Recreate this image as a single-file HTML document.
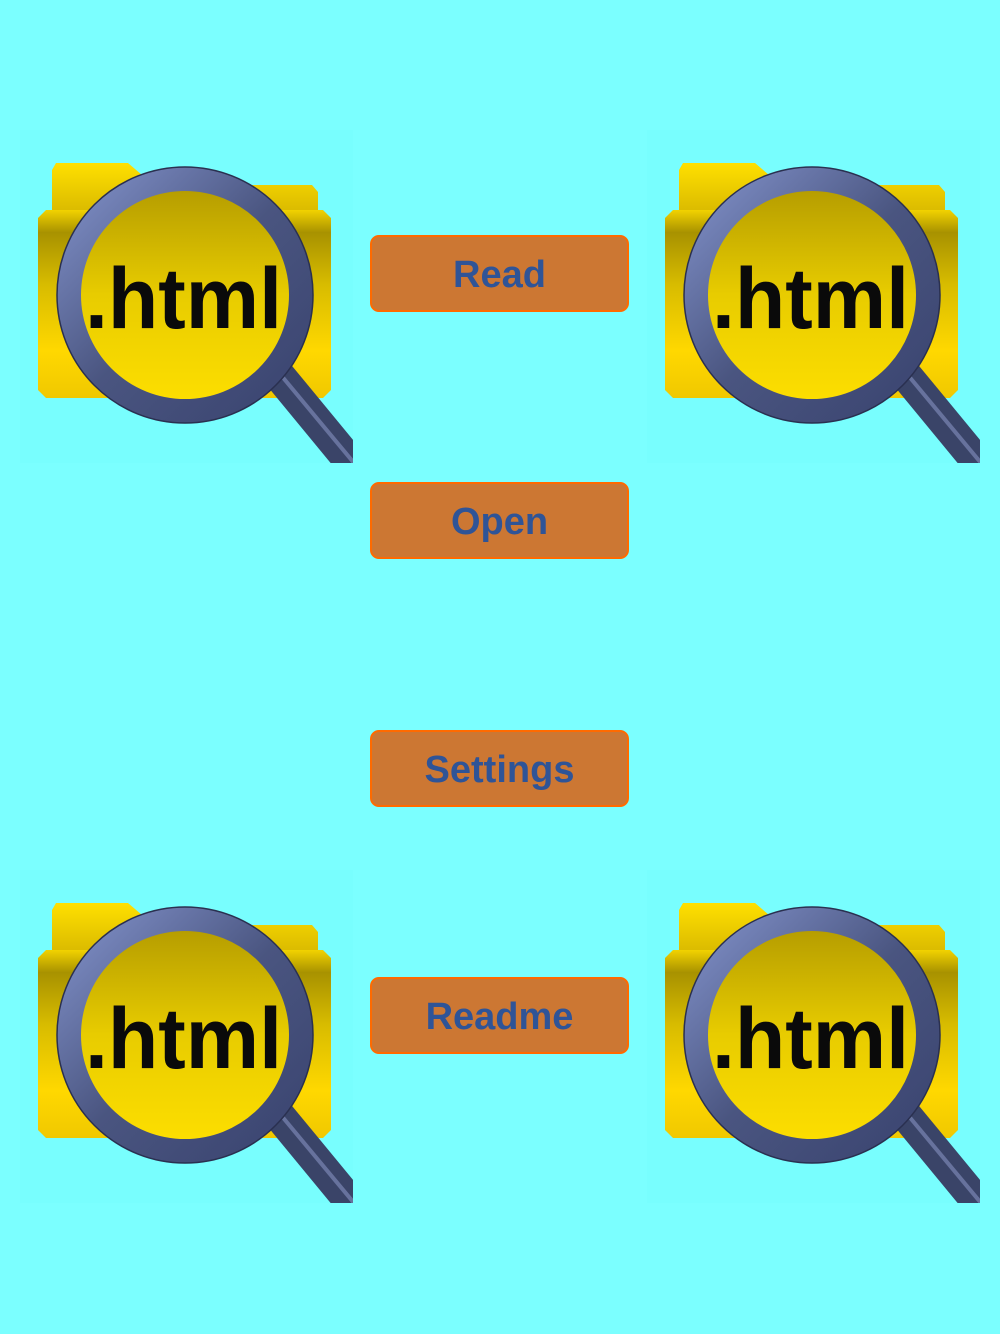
<!DOCTYPE html>
<html><head><meta charset="utf-8"><style>
html,body{margin:0;padding:0;background:#7bffff;}
body{width:1000px;height:1334px;position:relative;overflow:hidden;}
.btn{position:absolute;left:370px;width:255px;height:73px;background:#cc7733;border:2px solid #ff6a00;border-radius:9px;color:#2f5497;font:bold 38px "Liberation Sans",sans-serif;text-align:center;line-height:76px;}
svg{position:absolute;left:0;top:0;}
</style></head><body>
<svg width="1000" height="1334" viewBox="0 0 1000 1334">
<defs>
<linearGradient id="fold" x1="0" y1="0" x2="0" y2="1">
<stop offset="0" stop-color="#f2d200"/><stop offset="0.12" stop-color="#a89200"/><stop offset="0.4" stop-color="#d8bc00"/><stop offset="0.75" stop-color="#ffd800"/><stop offset="1" stop-color="#f0c800"/>
</linearGradient>
<linearGradient id="tab" x1="0" y1="0" x2="0" y2="1">
<stop offset="0" stop-color="#ffe000"/><stop offset="1" stop-color="#d4b400"/>
</linearGradient>
<linearGradient id="lens" x1="0" y1="0" x2="0" y2="1">
<stop offset="0" stop-color="#b09800"/><stop offset="0.5" stop-color="#e8cc00"/><stop offset="1" stop-color="#ffe000"/>
</linearGradient>
<linearGradient id="ring" x1="0" y1="0" x2="1" y2="1">
<stop offset="0" stop-color="#8090c8"/><stop offset="0.5" stop-color="#4a5580"/><stop offset="1" stop-color="#3a4470"/>
</linearGradient>
<clipPath id="cl"><rect x="0" y="0" width="333" height="333"/></clipPath>
<g id="icon">
<rect x="0" y="0" width="333" height="333" fill="#78fefe"/>
<path d="M32,40 L36,33 L108,33 L122,45 L122,55 L292,55 L298,62 L298,90 L32,90 Z" fill="url(#tab)"/>
<path d="M26,80 L303,80 L311,88 L311,260 L303,268 L26,268 L18,260 L18,88 Z" fill="url(#fold)"/>
<circle cx="165" cy="165" r="117" fill="url(#lens)"/>
<line x1="258" y1="244" x2="333" y2="335" stroke="#3a4468" stroke-width="32"/>
<line x1="260" y1="244" x2="334" y2="333" stroke="#7a86b4" stroke-width="4" opacity="0.7"/>
<circle cx="165" cy="165" r="116" fill="none" stroke="url(#ring)" stroke-width="24"/>
<circle cx="165" cy="165" r="128" fill="none" stroke="#2a3050" stroke-width="1.5"/>
</g>
</defs>
<g transform="translate(20,130)" clip-path="url(#cl)"><use href="#icon"/>
<text x="65" y="198" font-family="Liberation Sans,sans-serif" font-weight="bold" font-size="86" fill="#0a0a0a" textLength="197" lengthAdjust="spacingAndGlyphs">.html</text></g>
<g transform="translate(647,130)" clip-path="url(#cl)"><use href="#icon"/>
<text x="65" y="198" font-family="Liberation Sans,sans-serif" font-weight="bold" font-size="86" fill="#0a0a0a" textLength="197" lengthAdjust="spacingAndGlyphs">.html</text></g>
<g transform="translate(20,870)" clip-path="url(#cl)"><use href="#icon"/>
<text x="65" y="198" font-family="Liberation Sans,sans-serif" font-weight="bold" font-size="86" fill="#0a0a0a" textLength="197" lengthAdjust="spacingAndGlyphs">.html</text></g>
<g transform="translate(647,870)" clip-path="url(#cl)"><use href="#icon"/>
<text x="65" y="198" font-family="Liberation Sans,sans-serif" font-weight="bold" font-size="86" fill="#0a0a0a" textLength="197" lengthAdjust="spacingAndGlyphs">.html</text></g>
</svg>
<div class="btn" style="top:235px">Read</div>
<div class="btn" style="top:482px">Open</div>
<div class="btn" style="top:730px">Settings</div>
<div class="btn" style="top:977px">Readme</div>
</body></html>
